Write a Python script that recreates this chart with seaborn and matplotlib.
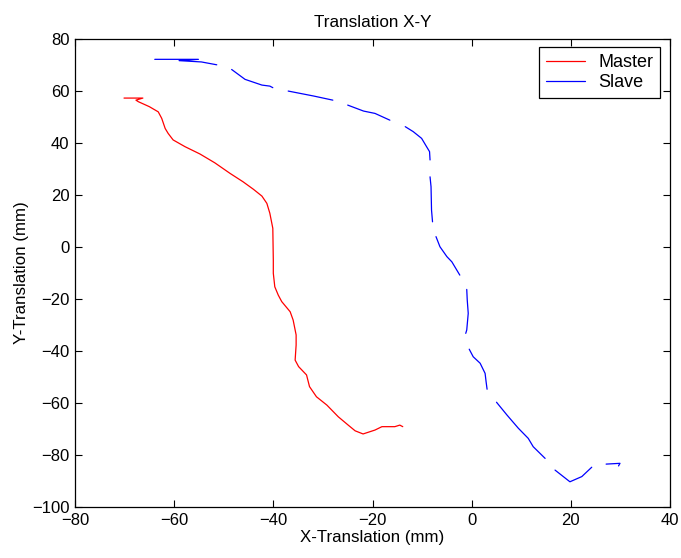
import numpy as np
import pandas as pd
import matplotlib
matplotlib.use("Agg")
import matplotlib.pyplot as plt
import seaborn as sns

master_x = [-70.1, -66.3, -67.7, -67.2, -65.0, -63.2, -62.5, -61.8, -61.2, -60.2, -57.8,
            -54.8, -51.8, -48.7, -46.1, -44.0, -42.3, -41.3, -40.7, -40.1, -40.0, -40.0,
            -39.7, -39.0, -38.3, -36.6, -36.0, -35.4, -35.4, -35.6, -34.9, -33.3, -32.7,
            -31.3, -29.2, -26.9, -24.9, -23.5, -21.9, -19.5, -18.1, -15.5, -14.5, -13.9]
master_y = [57.3, 57.3, 56.5, 55.9, 54.0, 52.0, 49.5, 45.6, 43.7, 41.2, 38.6,
            35.8, 32.4, 28.3, 25.1, 22.2, 19.6, 16.8, 13.0, 7.2, -5.0, -10.1,
            -15.3, -18.5, -21.0, -24.9, -28.1, -33.8, -37.7, -43.5, -46.0, -49.2, -53.7,
            -57.6, -60.8, -65.3, -68.5, -70.7, -71.9, -70.4, -69.1, -69.1, -68.5, -69.1]

nan = float("nan")
slave_x = [-63.9, -55.1, -59.0, -54.5, -51.4, nan,
           -48.4, -45.7, -42.3, -40.7, -40.1, nan,
           -37.0, -31.9, -28.0, nan,
           -25.0, -21.8, -19.5, -16.5, nan,
           -13.4, -11.8, -10.1, -9.1, -8.5, -8.4, nan,
           -8.4, -8.2, -8.1, -7.9, nan,
           -7.2, -6.4, -5.0, -4.0, -2.4, nan,
           -1.0, -0.9, -0.7, -1.0, -1.2, nan,
           -0.5, 0.3, 1.7, 2.7, 2.9, 3.1, nan,
           5.0, 7.1, 9.4, 11.4, 12.4, 14.8, nan,
           16.8, 19.8, 22.2, 24.2, nan,
           27.1, 29.9, 29.6]
slave_y = [72.2, 72.2, 71.7, 71.2, 70.1, nan,
           68.3, 64.5, 62.3, 61.9, 61.3, nan,
           60.0, 58.1, 56.5, nan,
           54.6, 52.3, 51.4, 48.8, nan,
           46.3, 44.4, 41.8, 38.6, 36.7, 33.5, nan,
           27.0, 23.2, 14.2, 9.7, nan,
           4.0, 0.1, -3.7, -5.7, -10.8, nan,
           -16.3, -20.4, -25.5, -31.9, -33.2, nan,
           -39.3, -42.2, -44.7, -48.6, -51.8, -54.7, nan,
           -59.7, -64.6, -69.7, -73.6, -76.8, -81.3, nan,
           -85.8, -90.3, -88.3, -84.7, nan,
           -83.5, -83.2, -84.2]

series_names = ["Master", "Slave"]
series_colors = ["#FF0000", "#0000FF"]
x_ticks = [-80, -60, -40, -20, 0, 20, 40]
y_ticks = [-100, -80, -60, -40, -20, 0, 20, 40, 60, 80]

# ---- build long-form table: one "unit" per unbroken segment ----
def to_frame(xs, ys, name, offset):
    xs = np.asarray(xs, float)
    ys = np.asarray(ys, float)
    seg = np.cumsum(np.isnan(xs)) + offset
    df = pd.DataFrame({"x": xs, "y": ys, "seg": seg, "series": name})
    return df.dropna()

df = pd.concat([to_frame(master_x, master_y, series_names[0], 0),
                to_frame(slave_x, slave_y, series_names[1], 100)],
               ignore_index=True)

sns.set_theme(style="white")
plt.rcParams["font.family"] = ["Liberation Sans", "DejaVu Sans"]
plt.rcParams["text.color"] = "black"
plt.rcParams["axes.labelcolor"] = "black"

fig = plt.figure(figsize=(6.81, 5.58), dpi=100)
ax = fig.add_axes([0.110, 0.0914, 0.874, 0.8386])

sns.lineplot(data=df, x="x", y="y", hue="series", units="seg",
             estimator=None, sort=False, palette=series_colors,
             hue_order=series_names, linewidth=0.9, ax=ax)

ax.set_xlim(-80, 40)
ax.set_ylim(-100, 80)
ax.set_xticks(x_ticks)
ax.set_yticks(y_ticks)
ax.tick_params(direction="in", length=5, width=0.8, top=True, right=True,
               bottom=True, left=True, labelsize=12, colors="black", pad=4)
for s in ax.spines.values():
    s.set_color("black")
    s.set_linewidth(0.9)
ax.grid(False)

ax.set_title("Translation X-Y", fontsize=12.3, pad=9, color="black")
ax.set_xlabel("X-Translation (mm)", fontsize=12.2, labelpad=2, color="black")
ax.set_ylabel("Y-Translation (mm)", fontsize=12.2, labelpad=2, color="black")

leg = ax.legend(loc="upper right", bbox_to_anchor=(0.983, 0.983), fontsize=13,
                frameon=True, fancybox=False, edgecolor="black", framealpha=1,
                handlelength=2.2, borderpad=0.38, labelspacing=0.18,
                handletextpad=0.7, borderaxespad=0)
leg.get_frame().set_linewidth(0.9)
for line in leg.get_lines():
    line.set_linewidth(0.9)
for t in leg.get_texts():
    t.set_color("black")

fig.savefig("out.png", dpi=100)
